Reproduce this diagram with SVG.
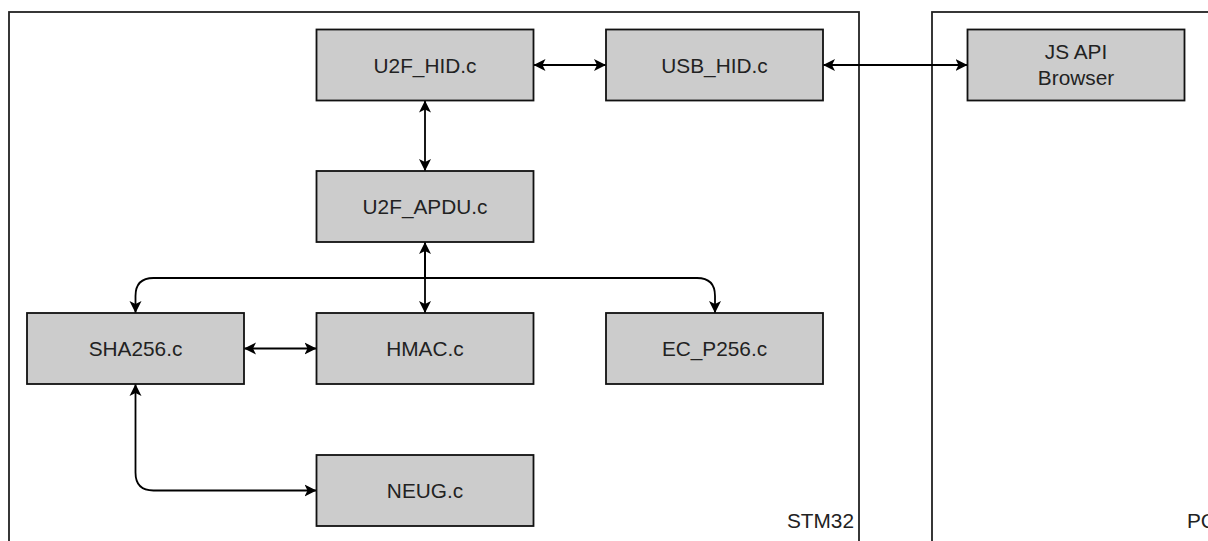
<svg xmlns="http://www.w3.org/2000/svg" width="1208" height="541" viewBox="0 0 1208 541">
<style>
.container{fill:#ffffff;stroke:#222222;stroke-width:1.8}
.box{fill:#cccccc;stroke:#111111;stroke-width:1.8}
.lbl{font-family:"Liberation Sans",Arial,sans-serif;font-size:20.8px;fill:#222222;text-anchor:middle}
.clbl{font-family:"Liberation Sans",Arial,sans-serif;font-size:20.8px;fill:#222222}
.edge{fill:none;stroke:#000000;stroke-width:1.8}
</style>
<defs>
<marker id="arr" markerUnits="userSpaceOnUse" markerWidth="14" markerHeight="14" refX="12" refY="6" orient="auto-start-reverse" viewBox="0 0 14 12">
<path d="M0,0 L12,6 L0,12 L3,6 Z" fill="#000000"/>
</marker>
</defs>
<rect width="1208" height="541" fill="#ffffff"/>
<g id="stm32">
<rect class="container" x="9" y="12" width="850" height="560"/>
<text class="clbl" x="854" y="527.5" text-anchor="end">STM32</text>
</g>
<g id="pc">
<rect class="container" x="932" y="12" width="400" height="560"/>
<text class="clbl" x="1187" y="527.5">PC</text>
</g>
<g id="connectors">
<path class="edge" d="M533.5,65 L606,65" marker-start="url(#arr)" marker-end="url(#arr)"/>
<path class="edge" d="M823,65 L967.5,65" marker-start="url(#arr)" marker-end="url(#arr)"/>
<path class="edge" d="M425,100.5 L425,171" marker-start="url(#arr)" marker-end="url(#arr)"/>
<path class="edge" d="M425,242 L425,313" marker-start="url(#arr)" marker-end="url(#arr)"/>
<path class="edge" d="M425,242 L425,278 L153.5,278 Q135.5,278 135.5,296 L135.5,313" marker-end="url(#arr)"/>
<path class="edge" d="M425,242 L425,278 L697,278 Q715,278 715,296 L715,313" marker-end="url(#arr)"/>
<path class="edge" d="M244,348.5 L316.5,348.5" marker-start="url(#arr)" marker-end="url(#arr)"/>
<path class="edge" d="M135.5,384 L135.5,472.5 Q135.5,490.5 153.5,490.5 L316.5,490.5" marker-start="url(#arr)" marker-end="url(#arr)"/>
</g>
<g id="u2f_hid">
<rect class="box" x="316.5" y="29.5" width="217" height="71"/>
<text class="lbl" x="425" y="72.5">U2F_HID.c</text>
</g>
<g id="usb_hid">
<rect class="box" x="606" y="29.5" width="217" height="71"/>
<text class="lbl" x="714.5" y="72.5">USB_HID.c</text>
</g>
<g id="js_api">
<rect class="box" x="967.5" y="29.5" width="217" height="71"/>
<text class="lbl" x="1076" y="59">JS API</text>
<text class="lbl" x="1076" y="85">Browser</text>
</g>
<g id="u2f_apdu">
<rect class="box" x="316.5" y="171" width="217" height="71"/>
<text class="lbl" x="425" y="214">U2F_APDU.c</text>
</g>
<g id="sha256">
<rect class="box" x="27" y="313" width="217" height="71"/>
<text class="lbl" x="135.5" y="356">SHA256.c</text>
</g>
<g id="hmac">
<rect class="box" x="316.5" y="313" width="217" height="71"/>
<text class="lbl" x="425" y="356">HMAC.c</text>
</g>
<g id="ec_p256">
<rect class="box" x="606" y="313" width="217" height="71"/>
<text class="lbl" x="714.5" y="356">EC_P256.c</text>
</g>
<g id="neug">
<rect class="box" x="316.5" y="455" width="217" height="71"/>
<text class="lbl" x="425" y="498">NEUG.c</text>
</g>
</svg>
